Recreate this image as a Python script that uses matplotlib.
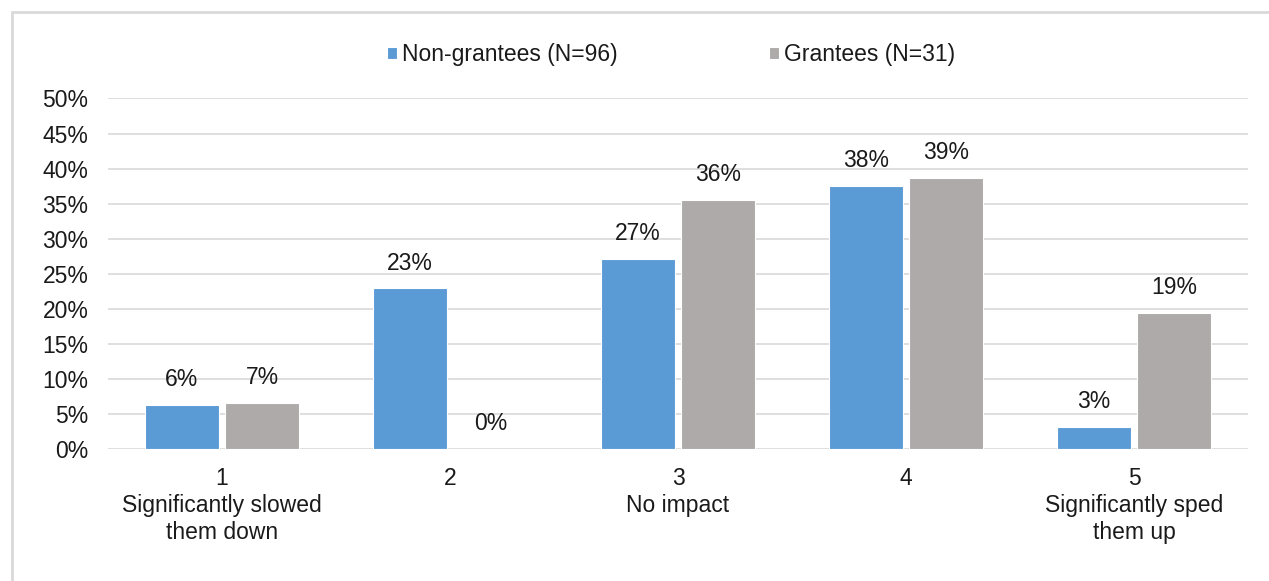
import matplotlib.pyplot as plt
import matplotlib.patches as patches
from matplotlib.ticker import PercentFormatter

plt.rcParams['font.family'] = ['Liberation Sans', 'DejaVu Sans']
plt.rcParams['font.size'] = 16.5

# Survey responses: impact on progress (1-5 scale)
categories = ["1\nSignificantly slowed\nthem down", "2", "3\nNo impact", "4",
              "5\nSignificantly sped\nthem up"]
non_grantees = [0.0625, 0.229, 0.271, 0.375, 0.031]
grantees = [0.066, 0.0, 0.355, 0.387, 0.194]
series_names = ["Non-grantees (N=96)", "Grantees (N=31)"]

blue = "#5B9BD5"
gray = "#AEAAAA"
grid_col = "#D9D9D9"
text_col = "#1a1a1a"

fig = plt.figure(figsize=(12.69, 5.81), dpi=100)
ax = fig.add_axes([0.0851, 0.2272, 0.8984, 0.6033])

# light frame around the whole chart area
frame = patches.Rectangle((12 / 1269, -0.1), 2, 0.9793 + 0.1, transform=fig.transFigure,
                          fill=False, edgecolor=grid_col, linewidth=2)
fig.patches.append(frame)

x = list(range(len(categories)))
w = 0.324
off = 0.177
b1 = ax.bar([i - off for i in x], non_grantees, w, color=blue, edgecolor="white",
            linewidth=0.8, label=series_names[0], zorder=3)
b2 = ax.bar([i + off for i in x], grantees, w, color=gray, edgecolor="white",
            linewidth=0.8, label=series_names[1], zorder=3)

for bars, vals in ((b1, non_grantees), (b2, grantees)):
    ax.bar_label(bars, labels=[f"{v * 100:.0f}%" for v in vals], padding=10,
                 color=text_col)

ax.set_xlim(-0.5, 4.5)
ax.set_ylim(0, 0.5)
ax.set_yticks([i * 0.05 for i in range(11)])
ax.yaxis.set_major_formatter(PercentFormatter(1.0, decimals=0))
ax.set_xticks(x)
ax.set_xticklabels(categories, linespacing=1.22)
ax.tick_params(axis="y", length=0, pad=14, labelcolor=text_col)
ax.tick_params(axis="x", length=0, pad=13, labelcolor=text_col)
ax.grid(axis="y", color=grid_col, linewidth=1.2, zorder=0)
for s in ax.spines.values():
    s.set_visible(False)

fig.legend(loc="center left", bbox_to_anchor=(366 / 1269, 1 - 55 / 581), ncol=2,
           frameon=False, handlelength=0.44, handleheight=0.44, handletextpad=0.22,
           columnspacing=6.6, labelcolor=text_col)

fig.savefig("out.png", dpi=100)
